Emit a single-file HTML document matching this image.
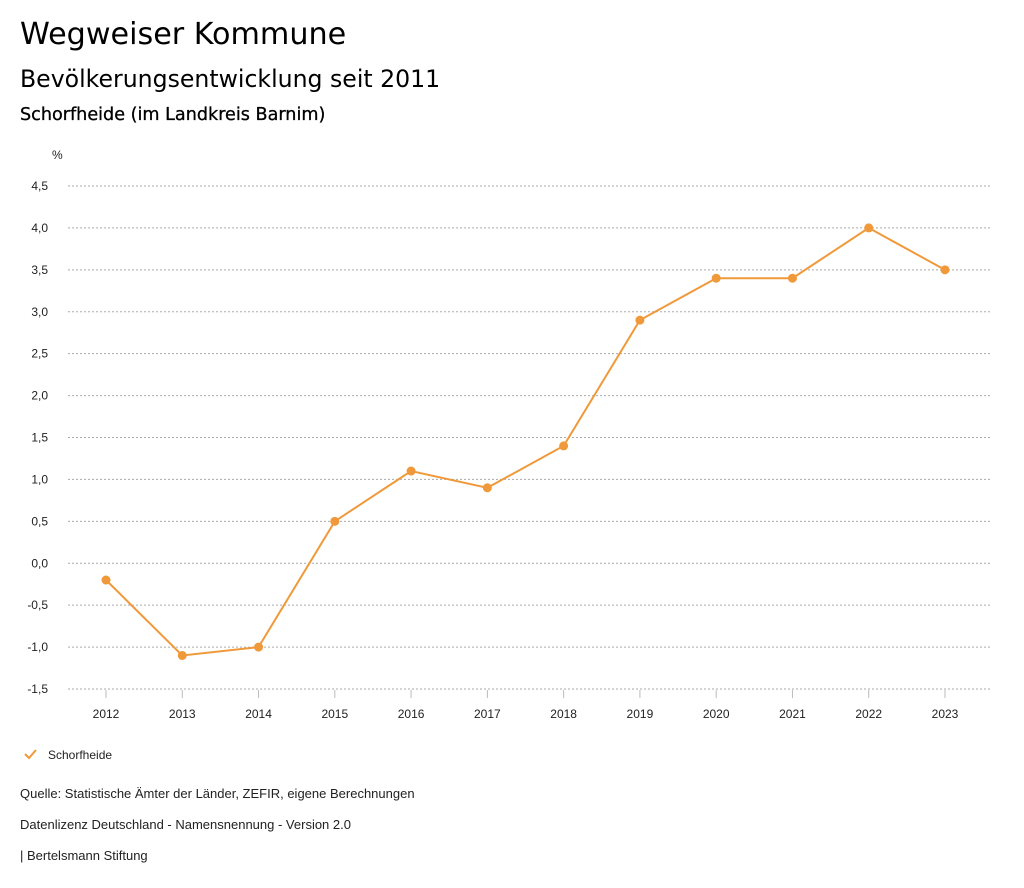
<!DOCTYPE html>
<html><head><meta charset="utf-8"><style>
body{margin:0;width:1024px;height:888px;background:#fff;font-family:"Liberation Sans",sans-serif;color:#222;overflow:hidden}
.t{position:absolute;left:20px;font-family:"DejaVu Sans",sans-serif;color:#000;white-space:nowrap}
.f{position:absolute;left:20px;font-size:13px;color:#222}
</style></head><body>
<div class="t" style="top:17px;font-size:30.2px">Wegweiser Kommune</div>
<div class="t" style="top:65px;font-size:23.6px">Bevölkerungsentwicklung seit 2011</div>
<div class="t" style="top:105px;font-size:17.6px;-webkit-text-stroke:0.3px #000">Schorfheide (im Landkreis Barnim)</div>
<svg id="c" width="1024" height="888" style="position:absolute;left:0;top:0"></svg>
<div class="f" style="top:786px">Quelle: Statistische Ämter der Länder, ZEFIR, eigene Berechnungen</div>
<div class="f" style="top:817px">Datenlizenz Deutschland - Namensnennung - Version 2.0</div>
<div class="f" style="top:848px">| Bertelsmann Stiftung</div>
<script>
const years=["2012","2013","2014","2015","2016","2017","2018","2019","2020","2021","2022","2023"];
const values=[-0.2,-1.1,-1.0,0.5,1.1,0.9,1.4,2.9,3.4,3.4,4.0,3.5];
const yTicks=[4.5,4.0,3.5,3.0,2.5,2.0,1.5,1.0,0.5,0.0,-0.5,-1.0,-1.5];
const NS="http://www.w3.org/2000/svg",svg=document.getElementById('c');
const yS=v=>186+(4.5-v)*(503/6);
const xS=i=>106+i*(839/11);
function mk(t,a,p){const e=document.createElementNS(NS,t);for(const k in a)e.setAttribute(k,a[k]);(p||svg).appendChild(e);return e;}
const col="#f0993a";
const u=mk('text',{x:52,y:159,'font-size':12,fill:'#222'});u.textContent='%';


yTicks.forEach(v=>{
 const l=mk('line',{x1:68,x2:990,y1:yS(v),y2:yS(v),stroke:'#aaa','stroke-dasharray':'2,2','stroke-width':1});
 
 
 const t=mk('text',{x:48,y:yS(v)+4,'text-anchor':'end','font-size':12,fill:'#222'});
 t.textContent=v.toFixed(1).replace('.',',');
 
 
});
years.forEach((y,i)=>{
 const k=mk('line',{x1:xS(i),x2:xS(i),y1:690,y2:698,stroke:'#bbb'});
 
 
 const t=mk('text',{x:xS(i),y:718,'text-anchor':'middle','font-size':12,fill:'#222'});
 t.textContent=y;
 
 
});
const p=mk('polyline',{points:values.map((v,i)=>xS(i)+','+yS(v)).join(' '),fill:'none',stroke:col,'stroke-width':2});


values.forEach((v,i)=>{
 const c=mk('circle',{cx:xS(i),cy:yS(v),r:4.5,fill:col});
 
 
});
const g=mk('g',{});


mk('polyline',{points:'25,754 29,758 36,750',fill:'none',stroke:col,'stroke-width':2},g);
const lt=mk('text',{x:48,y:759,'font-size':12,fill:'#222'},g);lt.textContent='Schorfheide';
</script>
</body></html>
